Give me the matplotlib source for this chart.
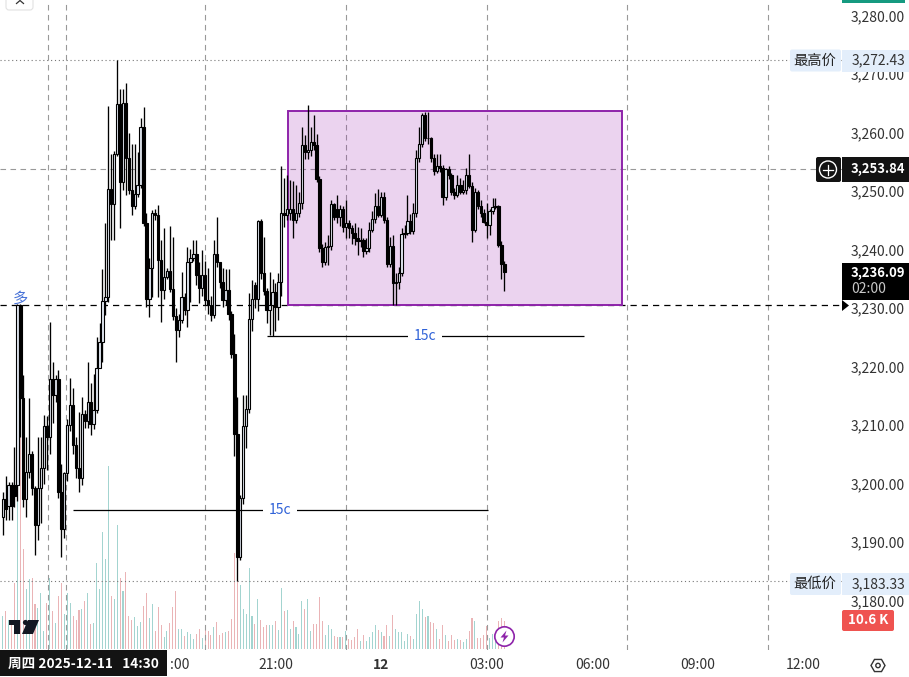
import numpy as np
import matplotlib
matplotlib.use("Agg")
import matplotlib.pyplot as plt
from matplotlib.patches import Rectangle, FancyBboxPatch, Circle, Polygon, RegularPolygon

plt.rcParams['font.family'] = ['Noto Sans CJK SC', 'DejaVu Sans']

# bougies 5 min
opens = [3194.3,3197.3,3196.1,3199.8,3199.8,3199.8,3230.5,3214.6,3197.3,3202.0,
3205.0,3199.2,3192.9,3199.2,3202.7,3209.8,3208.0,3217.8,3215.2,3217.8,
3198.5,3192.3,3201.8,3210.0,3213.4,3206.6,3202.6,3201.0,3211.9,3210.6,
3214.0,3210.1,3212.6,3219.7,3224.2,3231.2,3231.8,3250.4,3247.7,3256.3,
3264.9,3251.6,3265.0,3255.7,3250.2,3247.4,3249.5,3251.1,3260.9,3244.5,
3231.5,3236.8,3246.2,3245.9,3238.2,3233.0,3235.3,3236.3,3233.2,3228.7,
3226.3,3228.0,3231.8,3229.6,3237.8,3238.5,3239.2,3235.6,3233.5,3235.6,
3231.4,3230.5,3228.8,3239.2,3237.8,3234.4,3231.4,3233.0,3228.9,3222.2,
3208.4,3187.5,3197.5,3209.8,3212.8,3228.2,3233.9,3231.6,3244.9,3235.9,
3232.9,3229.6,3230.5,3232.7,3230.2,3234.4,3246.3,3245.9,3246.3,3247.0,
3245.1,3246.3,3247.9,3257.9,3256.6,3257.0,3258.4,3257.9,3252.0,3240.2,
3237.8,3240.5,3240.6,3247.7,3246.9,3245.6,3246.9,3243.8,3244.6,3243.6,
3242.9,3241.9,3241.4,3241.6,3239.7,3240.2,3243.4,3245.2,3247.5,3245.9,
3249.0,3245.0,3237.6,3240.6,3234.3,3234.5,3236.0,3242.7,3242.9,3244.9,
3243.1,3246.2,3255.7,3258.1,3263.0,3259.0,3259.0,3255.7,3253.5,3254.3,
3253.9,3249.0,3253.7,3252.8,3249.9,3249.3,3251.1,3249.9,3250.2,3252.8,
3250.9,3243.4,3249.9,3247.5,3246.2,3244.7,3244.2,3246.6,3247.3,3247.4,
3240.8,3237.6]
closes = [3197.3,3195.6,3199.7,3196.2,3197.9,3230.5,3214.6,3197.3,3202.0,3205.0,
3199.2,3192.9,3199.2,3202.7,3209.8,3208.0,3217.8,3215.2,3217.8,3198.5,
3192.3,3201.8,3210.0,3213.4,3206.6,3202.6,3201.0,3211.9,3210.6,3214.0,
3210.1,3212.6,3219.7,3224.2,3231.2,3231.8,3250.4,3247.7,3256.3,3264.9,
3251.6,3265.0,3255.7,3250.2,3247.4,3249.5,3251.1,3260.9,3244.5,3231.5,
3236.8,3246.2,3245.9,3238.2,3233.0,3235.3,3236.3,3233.2,3228.7,3226.3,
3228.0,3231.8,3229.6,3237.8,3238.5,3239.2,3235.6,3233.5,3235.6,3231.4,
3230.5,3228.8,3239.2,3237.8,3234.4,3231.4,3233.0,3228.9,3222.2,3208.4,
3187.5,3197.5,3209.8,3212.8,3228.2,3231.6,3231.6,3244.9,3235.9,3232.9,
3229.6,3230.5,3232.7,3230.2,3234.4,3246.3,3245.9,3247.0,3247.0,3245.1,
3246.3,3247.9,3257.9,3256.6,3257.0,3258.4,3257.9,3252.0,3240.2,3237.8,
3240.5,3240.6,3247.7,3245.6,3245.6,3246.9,3243.8,3244.6,3243.6,3242.9,
3241.9,3241.4,3241.6,3239.7,3240.2,3243.4,3245.2,3247.5,3245.9,3249.0,
3245.0,3237.6,3240.6,3234.3,3234.5,3236.0,3242.7,3242.9,3244.9,3243.1,
3246.2,3255.7,3258.1,3263.0,3259.0,3259.1,3255.7,3253.5,3254.3,3253.9,
3249.0,3253.7,3252.8,3249.9,3249.3,3251.1,3249.9,3250.2,3252.8,3250.9,
3243.4,3249.9,3247.5,3246.2,3244.7,3244.2,3246.6,3247.3,3247.4,3240.8,
3237.6,3236.09]
highs = [3198.6,3201.3,3200.3,3200.3,3206.3,3230.6,3230.7,3218.5,3208.0,3214.7,
3205.5,3199.5,3208.0,3208.0,3211.7,3211.5,3227.6,3220.8,3218.5,3219.4,
3203.4,3202.0,3211.0,3218.0,3216.3,3208.0,3212.3,3214.8,3212.5,3220.8,
3217.1,3218.8,3225.1,3227.4,3236.6,3244.6,3264.5,3256.4,3256.8,3272.43,
3267.5,3267.5,3268.4,3259.9,3258.1,3258.1,3256.7,3262.4,3264.4,3246.2,
3238.5,3246.7,3246.9,3247.6,3241.6,3243.6,3236.8,3244.0,3242.2,3230.0,
3229.0,3236.2,3232.5,3240.5,3240.1,3241.6,3241.7,3237.8,3240.0,3238.0,
3236.8,3232.0,3241.6,3245.6,3237.6,3236.8,3236.6,3236.6,3229.5,3225.5,
3214.8,3198.0,3215.1,3215.1,3232.5,3234.8,3234.5,3245.0,3245.2,3242.2,
3233.5,3236.2,3235.0,3234.3,3235.9,3254.2,3252.2,3252.7,3251.9,3251.7,
3251.0,3249.9,3261.0,3259.6,3264.7,3261.0,3263.0,3259.8,3252.5,3241.0,
3241.3,3242.5,3248.4,3247.9,3249.3,3247.6,3247.5,3248.4,3245.0,3244.2,
3244.5,3243.9,3243.6,3241.9,3241.9,3244.7,3246.5,3249.6,3250.4,3249.9,
3249.9,3245.5,3242.2,3242.5,3236.0,3237.0,3243.6,3244.2,3249.3,3246.0,
3247.9,3257.0,3261.0,3263.3,3263.5,3263.5,3259.3,3256.4,3256.4,3256.4,
3254.5,3254.0,3254.2,3253.0,3250.5,3252.7,3252.2,3251.9,3253.9,3256.4,
3251.5,3250.5,3250.2,3248.5,3247.0,3247.9,3247.0,3248.8,3248.8,3247.6,
3241.5,3238.0]
lows = [3191.2,3193.8,3193.8,3193.8,3196.0,3197.0,3208.0,3196.0,3194.3,3201.0,
3198.0,3187.8,3190.3,3193.2,3200.0,3202.3,3205.0,3210.4,3214.0,3197.5,
3187.5,3190.6,3200.5,3209.0,3205.0,3201.0,3198.6,3199.7,3209.5,3209.5,
3208.3,3209.3,3212.0,3220.5,3220.8,3228.8,3231.0,3241.6,3241.6,3256.0,
3243.6,3250.2,3249.3,3249.5,3245.9,3247.0,3249.0,3250.5,3244.0,3230.2,
3228.5,3231.9,3245.0,3231.9,3227.6,3231.6,3235.0,3232.7,3228.0,3220.8,
3225.1,3227.5,3228.8,3226.8,3231.0,3238.0,3234.0,3230.8,3232.0,3230.5,
3229.0,3227.7,3228.3,3237.0,3233.5,3230.2,3230.5,3228.0,3221.5,3204.7,
3183.33,3187.0,3196.5,3206.0,3212.0,3226.0,3230.0,3229.5,3235.0,3232.2,
3227.5,3225.4,3225.2,3226.0,3228.0,3232.0,3243.9,3245.0,3245.0,3241.9,
3244.5,3245.5,3247.0,3255.5,3255.5,3256.0,3257.0,3251.5,3239.5,3237.0,
3237.3,3237.3,3240.0,3245.0,3244.5,3244.0,3243.0,3241.9,3241.9,3241.0,
3240.8,3239.0,3240.5,3238.8,3239.3,3239.5,3243.0,3244.5,3245.5,3245.5,
3244.5,3237.0,3237.0,3230.5,3230.5,3233.3,3235.5,3242.0,3242.5,3242.6,
3242.6,3245.5,3255.0,3257.5,3258.5,3258.0,3255.0,3252.7,3253.0,3253.2,
3247.6,3248.4,3252.0,3249.3,3248.7,3249.0,3249.5,3249.5,3249.5,3250.5,
3241.3,3243.0,3247.0,3245.5,3244.5,3241.9,3242.5,3246.0,3247.0,3240.5,
3235.0,3232.9]
# volume en milliers
volumes = [12.3,14.5,11.0,9.8,25.0,61.8,80.6,37.7,22.5,26.3,
26.9,16.8,15.5,21.2,6.6,17.4,26.9,14.2,9.8,20.2,
24.8,13.2,21.2,17.4,12.3,11.0,14.6,15.1,18.0,21.2,
9.4,9.8,32.6,22.5,44.5,34.2,69.5,20.2,19.0,46.9,
26.9,22.1,29.2,12.3,10.8,12.1,8.5,10.2,16.4,21.2,
11.7,16.8,6.6,15.9,9.1,4.4,6.6,9.8,15.9,22.1,
7.6,7.6,4.7,6.4,5.7,3.8,5.7,7.6,4.1,9.1,
6.6,5.3,8.3,10.2,5.1,6.0,6.4,6.6,11.3,36.4,
34.5,24.1,15.1,13.0,30.5,12.6,9.5,18.7,11.0,8.1,
8.9,8.9,8.9,10.4,7.0,23.1,14.2,14.6,7.6,10.7,
8.1,5.7,18.3,14.9,19.0,6.6,9.5,9.5,19.6,10.7,
5.1,9.1,7.6,4.7,4.3,4.3,4.3,6.6,3.7,3.2,
4.3,7.6,2.8,5.3,2.8,4.3,6.2,8.9,7.2,6.2,
4.7,8.9,4.7,12.7,7.6,6.2,6.2,2.8,5.7,4.7,
3.8,13.0,18.3,14.9,12.1,12.3,10.0,9.8,7.5,3.8,
9.1,5.3,2.8,5.3,3.4,3.8,3.4,2.5,3.8,6.6,
11.7,10.4,4.1,4.1,5.3,8.5,4.1,5.7,5.7,10.7,
11.7,10.6]

price_ticks = [3180,3190,3200,3210,3220,3230,3240,3250,3260,3270,3280]
# le 18:00 est masque par la date : seul ":00" se voit
time_ticks = [60.2,93,129,165,201,237,273]
time_labels = [':00','21:00','12','03:00','06:00','09:00','12:00']
grid_x = [15.3,21.5,69,117,165,213,261]

high_price = 3272.43
low_price = 3183.33
cross_price = 3253.84
last_price = 3236.09
prev_close = 3230.5
box_x = [97.3,211.1]
box_y = [3230.5,3263.7]
level_15c = [(90.1,198.2,3225.2,'15c',144.0), (24.0,165.5,3195.5,'15c',94.5)]

W, H = 909, 677
PLOT_W, PLOT_H = 842, 650
fig = plt.figure(figsize=(W/100, H/100), dpi=100, facecolor='white')
rect = [0, (H-PLOT_H)/H, PLOT_W/W, PLOT_H/H]

# volume dessous
axv = fig.add_axes(rect, zorder=1)
axv.axis('off')
ax = fig.add_axes(rect, zorder=2)
ax.patch.set_visible(False)

x = np.arange(len(closes))
o = np.array(opens); c = np.array(closes); h = np.array(highs); l = np.array(lows)
up = c >= o

xlim = (-0.927, 286.15)
ax.set_xlim(xlim); axv.set_xlim(xlim)
ax.set_ylim(3171.54, 3282.65)
axv.set_ylim(-0.5, 246.5)

vol_colors = ['#a3d4d0' if u else '#eab4b6' for u in up]
axv.bar(x, volumes, width=0.36, color=vol_colors, linewidth=0)

# grille
ax.vlines(grid_x, 3171.54, 3282.65, color='#999999', lw=0.8, linestyles=(0,(5,4)), zorder=1)
ax.axhline(cross_price, color='#999999', lw=0.8, ls=(0,(5,4)), zorder=1)
ax.axhline(prev_close, color='black', lw=0.9, ls=(0,(5,4)), zorder=1)
ax.axhline(high_price, color='#777777', lw=0.8, ls=(0,(1,2.5)), zorder=1)
ax.axhline(low_price, color='#777777', lw=0.8, ls=(0,(1,2.5)), zorder=1)

# zone violette
ax.add_patch(Rectangle((box_x[0], box_y[0]), box_x[1]-box_x[0], box_y[1]-box_y[0],
                       facecolor=(0.61,0.15,0.69,0.2), edgecolor='#8e24aa', lw=1.4, zorder=2))

# bougies
ax.vlines(x, l, h, color='black', lw=0.95, zorder=3)
ax.bar(x[up], (c-o)[up], bottom=o[up], width=0.78, facecolor='#e2e8f2', edgecolor='black', lw=0.8, zorder=4)
ax.bar(x[~up], (c-o)[~up], bottom=o[~up], width=0.85, facecolor='black', edgecolor='black', lw=0.8, zorder=4)

# niveaux 15c
for x0, x1, y, txt, xt in level_15c:
    ax.hlines(y, x0, x1, color='black', lw=0.9, zorder=5)
    ax.text(xt, y, txt, color='#2f62d8', fontsize=10, ha='center', va='center', zorder=6,
            bbox=dict(facecolor='white', edgecolor='none', pad=4))
ax.text(6, 3230.3, '多', color='#4a74d8', fontsize=11, ha='center', va='bottom', zorder=6)

for s in ax.spines.values():
    s.set_visible(False)
ax.yaxis.tick_right()
ax.set_yticks(price_ticks)
ax.set_yticklabels(['{:,.2f}'.format(p) for p in price_ticks], fontsize=10, color='#333333')
ax.tick_params(axis='y', length=0, pad=6.5)
ax.set_xticks(time_ticks)
ax.set_xticklabels(time_labels, fontsize=10, color='#333333')
ax.tick_params(axis='x', length=0, pad=5.5)
ax.get_xticklabels()[2].set_fontweight('bold')

# habillage de l'interface, en pixels
ui = fig.add_axes([0,0,1,1], zorder=10)
ui.set_xlim(0, W); ui.set_ylim(H, 0)
ui.axis('off')

def badge(x0, y0, w, hh, col, rad=2):
    ui.add_patch(FancyBboxPatch((x0+rad, y0+rad), w-2*rad, hh-2*rad, boxstyle='round,pad=%d,rounding_size=%d' % (rad, rad),
                                facecolor=col, edgecolor='none'))

# bouton coupe en haut a gauche
ui.add_patch(FancyBboxPatch((6, -8), 27, 18, boxstyle='round,pad=0,rounding_size=3', facecolor='white', edgecolor='#e2e2e2', lw=0.8))
ui.plot([16.5,20,23.5], [3.5,0.5,3.5], color='#333333', lw=0.9)

# haut / bas
for yc, name, val in [(60.5, '最高价', high_price), (584, '最低价', low_price)]:
    badge(790, yc-11, 51, 22, '#e3eefb')
    ui.add_patch(Rectangle((842, yc-11), 67, 22, facecolor='#e3eefb', edgecolor='none'))
    ui.text(815, yc, name, fontsize=10.3, color='#222222', ha='center', va='center')
    ui.text(905, yc, '{:,.2f}'.format(val), fontsize=10, color='#333333', ha='right', va='center')

# prix du curseur
badge(816, 157, 25, 25, '#131313')
ui.add_patch(Circle((828, 169.5), 8.5, facecolor='none', edgecolor='white', lw=1))
ui.plot([823,833], [169.5,169.5], color='white', lw=0.9)
ui.plot([828,828], [164.5,174.5], color='white', lw=0.9)
ui.add_patch(Rectangle((842, 157), 67, 25, facecolor='#131313', edgecolor='none'))
ui.text(905, 169.5, '{:,.2f}'.format(cross_price), fontsize=9.4, fontweight='bold', color='white', ha='right', va='center')

# dernier prix
ui.add_patch(Rectangle((842, 263), 67, 37, facecolor='black', edgecolor='none'))
ui.text(905, 273, '{:,.2f}'.format(last_price), fontsize=9.4, fontweight='bold', color='white', ha='right', va='center')
ui.text(851, 289, '02:00', fontsize=10, color='#c8c8c8', ha='left', va='center')
ui.add_patch(Polygon([(842,300),(849,305.5),(842,311)], facecolor='black', edgecolor='none'))

# volume
badge(842, 610, 52, 21, '#ef5350')
ui.text(868, 620.5, '10.6 K', fontsize=9.6, fontweight='bold', color='white', ha='center', va='center')

# barre verte en haut
ui.add_patch(Rectangle((842, 0), 63, 2.5, facecolor='#159a80', edgecolor='none'))

# logo
ui.add_patch(Polygon([(9,620),(20,620),(20,634),(14,634),(14,625),(9,625)], facecolor='#131722', edgecolor='none'))
ui.add_patch(Circle((25.5,622.5), 2.6, facecolor='#131722', edgecolor='none'))
ui.add_patch(Polygon([(28,620),(39,620),(33,634),(22,634)], facecolor='#131722', edgecolor='none'))

# eclair
ui.add_patch(Circle((504.5,636.5), 9.7, facecolor='white', edgecolor='#8e24aa', lw=1.2))
ui.add_patch(Polygon([(506.5,630.5),(500.5,637.5),(504,637.5),(502.5,642.5),(508.5,635.5),(505,635.5)],
                     facecolor='#8e24aa', edgecolor='none'))

# date
ui.add_patch(Rectangle((0, 650), 167, 26, facecolor='#131313', edgecolor='none'))
ui.text(8, 664, '周四 2025-12-11   14:30', fontsize=9.8, fontweight='bold', color='white', ha='left', va='center')

# reglages
ui.add_patch(RegularPolygon((878,665.5), 6, radius=7, orientation=np.pi/6, facecolor='none', edgecolor='#333333', lw=1))
ui.add_patch(Circle((878,665.5), 2.2, facecolor='none', edgecolor='#333333', lw=1))

fig.savefig('out.png', dpi=100)
